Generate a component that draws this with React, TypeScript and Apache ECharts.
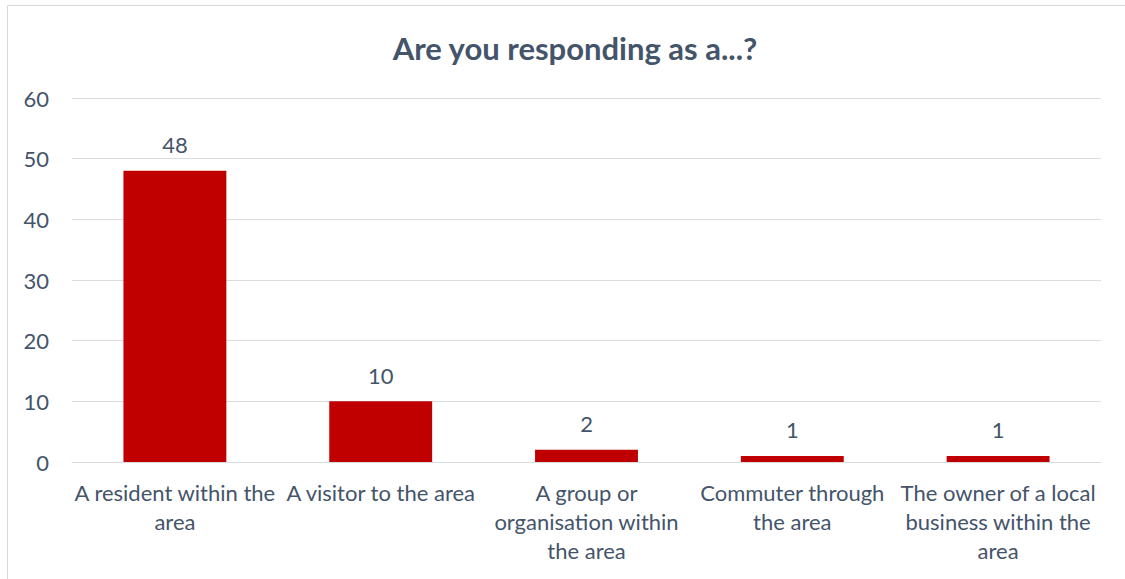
import React, { useEffect, useRef } from "react";
import * as echarts from "echarts";

const categories = [
  "A resident within the area",
  "A visitor to the area",
  "A group or organisation within the area",
  "Commuter through the area",
  "The owner of a local business within the area",
];
const tickLabels = [
  "A resident within the\narea",
  "A visitor to the area",
  "A group or\norganisation within\nthe area",
  "Commuter through\nthe area",
  "The owner of a local\nbusiness within the\narea",
];
const values = [48, 10, 2, 1, 1];
const title = "Are you responding as a...?";

const FONT = "Lato, 'Noto Sans', sans-serif";
const TEXT = "#44546A";

export default function App() {
  const ref = useRef<HTMLDivElement>(null);
  useEffect(() => {
    if (!ref.current) return;
    const chart = echarts.init(ref.current, undefined, { renderer: "svg" });
    chart.setOption({
      animation: false,
      backgroundColor: "#ffffff",
      title: {
        text: title,
        left: 570,
        textAlign: "center",
        top: 27,
        textStyle: { fontFamily: FONT, fontSize: 31, fontWeight: "bold", color: TEXT },
      },
      graphic: [
        {
          type: "rect",
          shape: { x: 7.5, y: 5.5, width: 1130, height: 600 },
          style: { fill: "none", stroke: "#D9D9D9", lineWidth: 1 },
          silent: true,
        },
      ],
      grid: { left: 72, right: 24, top: 98, bottom: 117, containLabel: false },
      xAxis: {
        type: "category",
        data: categories,
        axisLine: { show: true, lineStyle: { color: "#D9DCE1", width: 1 } },
        axisTick: { show: false },
        axisLabel: {
          interval: 0,
          margin: 16,
          fontFamily: FONT,
          fontSize: 22,
          color: TEXT,
          lineHeight: 29,
          formatter: (_v: string, i: number) => tickLabels[i],
        },
      },
      yAxis: {
        type: "value",
        min: 0,
        max: 60,
        interval: 10,
        axisLine: { show: false },
        axisTick: { show: false },
        splitLine: { lineStyle: { color: "#D9DCE1", width: 1 } },
        axisLabel: { margin: 23, fontFamily: FONT, fontSize: 22, color: TEXT },
      },
      series: [
        {
          type: "bar",
          data: values,
          barWidth: "50%",
          itemStyle: { color: "#C00000" },
          label: {
            show: true,
            position: "top",
            distance: 15,
            fontFamily: FONT,
            fontSize: 22,
            color: TEXT,
          },
        },
      ],
    });
    return () => chart.dispose();
  }, []);
  return (
    <div style={{ position: "fixed", left: 0, top: 0, width: 1125, height: 579 }}>
      <div ref={ref} style={{ width: 1125, height: 579 }} />
    </div>
  );
}
